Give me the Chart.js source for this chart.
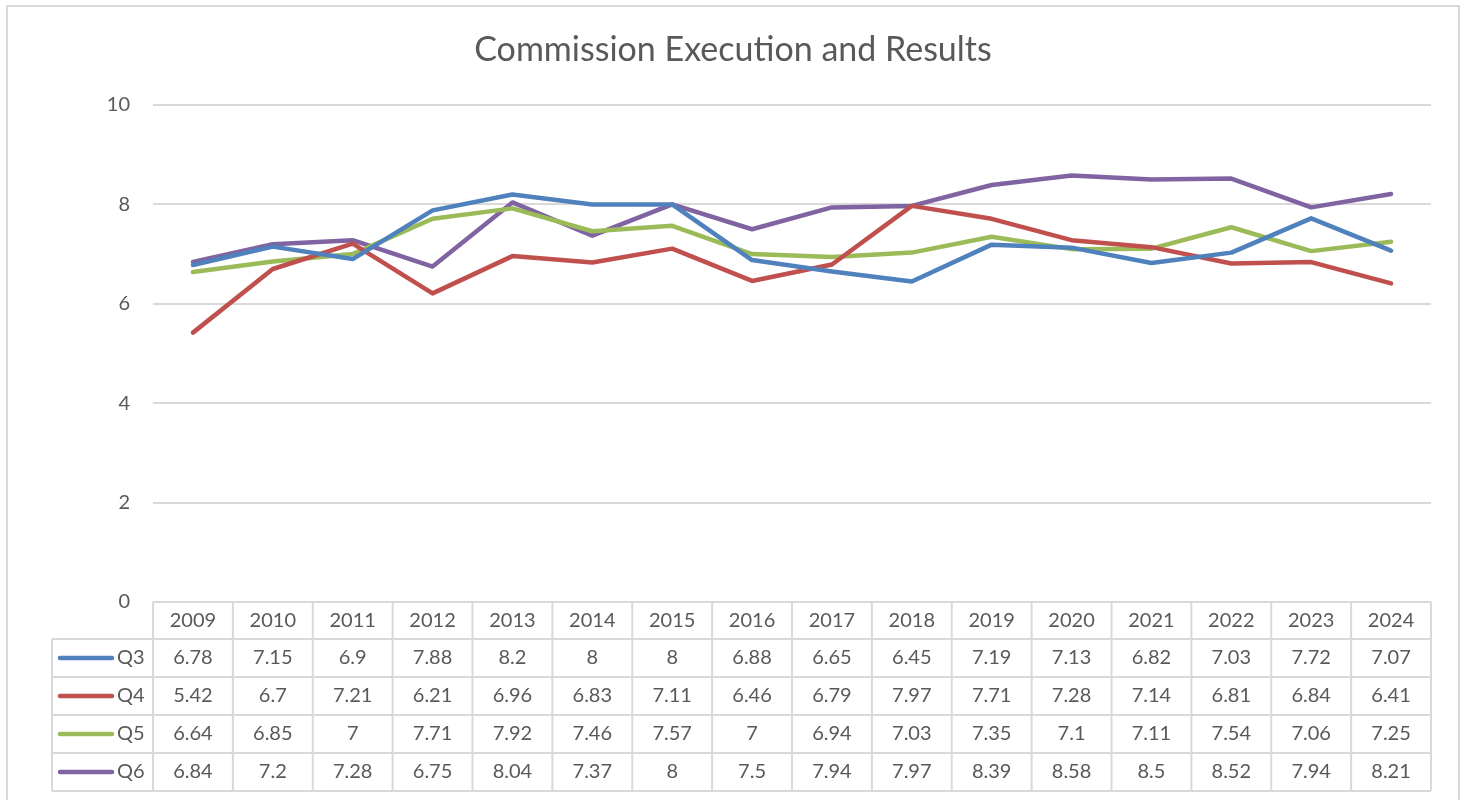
<!DOCTYPE html>
<html>
<head>
<meta charset="utf-8">
<script src="https://cdn.jsdelivr.net/npm/chart.js@4/dist/chart.umd.min.js"></script>
<style>
html,body{margin:0;padding:0;background:#fff;}
canvas{display:block;}
</style>
</head>
<body>
<canvas id="c" width="1465" height="800"></canvas>
<script>
const years = ["2009","2010","2011","2012","2013","2014","2015","2016","2017","2018","2019","2020","2021","2022","2023","2024"];
const q3 = [6.78,7.15,6.9,7.88,8.2,8,8,6.88,6.65,6.45,7.19,7.13,6.82,7.03,7.72,7.07];
const q4 = [5.42,6.7,7.21,6.21,6.96,6.83,7.11,6.46,6.79,7.97,7.71,7.28,7.14,6.81,6.84,6.41];
const q5 = [6.64,6.85,7,7.71,7.92,7.46,7.57,7,6.94,7.03,7.35,7.1,7.11,7.54,7.06,7.25];
const q6 = [6.84,7.2,7.28,6.75,8.04,7.37,8,7.5,7.94,7.97,8.39,8.58,8.5,8.52,7.94,8.21];
const seriesNames = ["Q3","Q4","Q5","Q6"];
const seriesColors = ["#4F81BD","#C0504D","#9BBB59","#8064A2"];
const titleText = "Commission Execution and Results";
const yTicks = [0,2,4,6,8,10];

const FONT = "Lato, 'Open Sans', sans-serif";
const TEXT = "#595959";
const GRID = "#d9d9d9";

const allSeries = [q3,q4,q5,q6];

const framePlugin = {
  id: 'frame',
  beforeDraw(chart) {
    const ctx = chart.ctx;
    ctx.save();
    ctx.fillStyle = '#fff';
    ctx.fillRect(0,0,chart.width,chart.height);
    ctx.strokeStyle = GRID;
    ctx.lineWidth = 2;
    ctx.strokeRect(7,6,1452,810);
    ctx.fillStyle = TEXT;
    ctx.font = "34px " + FONT;
    ctx.textAlign = 'center';
    ctx.textBaseline = 'middle';
    ctx.fillText(titleText, 733, 50);
    ctx.restore();
  },
  afterDraw(chart) {
    const ctx = chart.ctx;
    const x = chart.scales.x;
    const area = chart.chartArea;
    const w = x.getPixelForValue(1) - x.getPixelForValue(0);
    const left = x.getPixelForValue(0) - w/2;
    const right = x.getPixelForValue(years.length-1) + w/2;
    const top = area.bottom;
    const headerH = 37;
    const rowH = 38;
    const tableLeft = 52;
    const bottom = top + headerH + rowH*allSeries.length;
    ctx.save();
    ctx.strokeStyle = GRID;
    ctx.lineWidth = 2;
    ctx.beginPath();
    ctx.moveTo(left, top); ctx.lineTo(right, top);
    for (let r = 0; r <= allSeries.length; r++) {
      const yy = top + headerH + rowH*r;
      ctx.moveTo(tableLeft, yy); ctx.lineTo(right, yy);
    }
    ctx.moveTo(tableLeft, top + headerH); ctx.lineTo(tableLeft, bottom);
    for (let i = 0; i <= years.length; i++) {
      const xx = left + w*i;
      ctx.moveTo(xx, top); ctx.lineTo(xx, bottom);
    }
    ctx.stroke();

    ctx.fillStyle = TEXT;
    ctx.font = "20px " + FONT;
    ctx.textAlign = 'center';
    ctx.textBaseline = 'middle';
    years.forEach((yr,i) => {
      ctx.fillText(yr, x.getPixelForValue(i), top + headerH/2);
    });
    allSeries.forEach((s, r) => {
      const cy = top + headerH + rowH*r + rowH/2;
      s.forEach((v,i) => {
        ctx.fillText(String(v), x.getPixelForValue(i), cy);
      });
      ctx.save();
      ctx.strokeStyle = seriesColors[r];
      ctx.lineWidth = 4.5;
      ctx.lineCap = 'round';
      ctx.beginPath();
      ctx.moveTo(60, cy); ctx.lineTo(112, cy);
      ctx.stroke();
      ctx.restore();
      ctx.textAlign = 'left';
      ctx.fillText(seriesNames[r], 117, cy);
      ctx.textAlign = 'center';
    });
    ctx.restore();
  }
};

new Chart(document.getElementById('c'), {
  type: 'line',
  data: {
    labels: years,
    datasets: allSeries.map((s, i) => ({
      label: seriesNames[i],
      data: s,
      borderColor: seriesColors[i],
      backgroundColor: seriesColors[i],
      borderWidth: 4.5,
      pointRadius: 0,
      tension: 0,
      borderCapStyle: 'round',
      borderJoinStyle: 'round',
      fill: false
    }))
  },
  options: {
    responsive: false,
    animation: false,
    layout: { padding: { top: 105, right: 34, bottom: 198, left: 0 } },
    plugins: {
      legend: { display: false },
      title: { display: false },
      tooltip: { enabled: false }
    },
    scales: {
      x: {
        display: false,
        offset: true,
        grid: { display: false }
      },
      y: {
        min: 0,
        max: 10,
        afterFit(scale) { scale.width = 153; },
        afterBuildTicks(scale) { scale.ticks = yTicks.map(v => ({ value: v })); },
        border: { display: false },
        grid: { color: GRID, lineWidth: 2, drawTicks: false },
        ticks: {
          color: TEXT,
          font: { family: FONT, size: 20 },
          padding: 23
        }
      }
    }
  },
  plugins: [framePlugin]
});
</script>
</body>
</html>
